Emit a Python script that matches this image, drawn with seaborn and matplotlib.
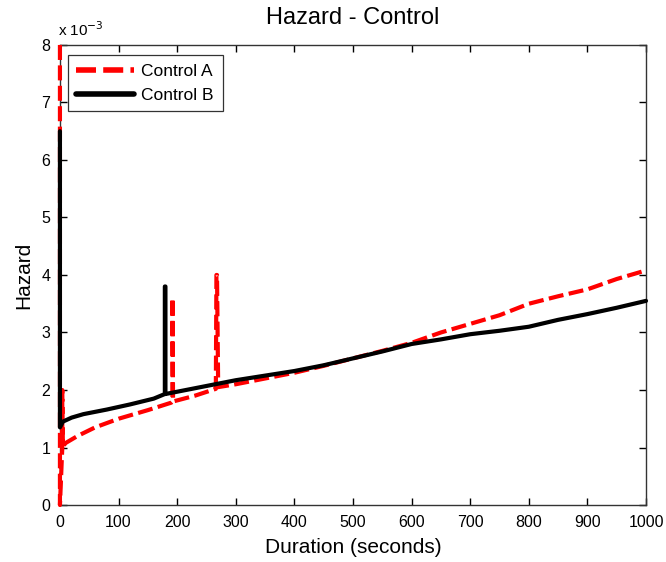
import matplotlib
matplotlib.use("Agg")
import matplotlib.pyplot as plt
import seaborn as sns
import pandas as pd

# Hazard values (units of 1e-3)
ctrl_a_x = [0, 0, 4, 4, 5, 10, 30, 60, 100, 150, 190, 192, 192, 193, 230,
            266, 267, 268, 270, 300, 350, 400, 450, 500, 550, 600, 650, 700,
            750, 800, 850, 900, 950, 1000]
ctrl_a_y = [8.0, 0.0, 1.0, 2.0, 1.02, 1.08, 1.2, 1.35, 1.5, 1.65, 1.78,
            1.8, 3.6, 1.8, 1.9, 2.02, 4.0, 4.0, 2.05, 2.1, 2.2, 2.3, 2.42,
            2.55, 2.68, 2.82, 3.0, 3.15, 3.3, 3.5, 3.63, 3.75, 3.93, 4.08]

ctrl_b_x = [0, 0, 5, 20, 40, 80, 120, 160, 179, 179, 180, 180, 200, 250, 300,
            350, 400, 450, 500, 550, 600, 650, 700, 750, 800, 850, 900, 950,
            1000]
ctrl_b_y = [6.5, 1.35, 1.45, 1.52, 1.58, 1.66, 1.75, 1.85, 1.93, 3.8, 3.8,
            1.93, 1.97, 2.07, 2.17, 2.25, 2.33, 2.43, 2.55, 2.67, 2.8, 2.88,
            2.97, 3.03, 3.1, 3.22, 3.32, 3.43, 3.55]

x_ticks = [0, 100, 200, 300, 400, 500, 600, 700, 800, 900, 1000]
y_ticks = [0, 1, 2, 3, 4, 5, 6, 7, 8]

sns.set_theme(style="white")
plt.rcParams['font.family'] = ['Liberation Sans', 'DejaVu Sans']
plt.rcParams['text.color'] = 'black'
plt.rcParams['axes.labelcolor'] = 'black'
plt.rcParams['xtick.color'] = 'black'
plt.rcParams['ytick.color'] = 'black'

fig = plt.figure(figsize=(6.66, 5.62), dpi=100)
ax = fig.add_axes([0.090, 0.1014, 0.880, 0.8186])

df_a = pd.DataFrame({"x": ctrl_a_x, "y": ctrl_a_y})
df_b = pd.DataFrame({"x": ctrl_b_x, "y": ctrl_b_y})

sns.lineplot(data=df_a, x="x", y="y", ax=ax, sort=False, estimator=None,
             color="#ff0000", linewidth=3, label="Control A")
line_a = ax.lines[-1]
line_a.set_dashes([3.6, 1.3])
sns.lineplot(data=df_b, x="x", y="y", ax=ax, sort=False, estimator=None,
             color="black", linewidth=3, label="Control B")
line_b = ax.lines[-1]
for ln in (line_a, line_b):
    ln.set_clip_on(False)
    ln.set_zorder(3)

ax.set_xlim(0, 1000)
ax.set_ylim(0, 8)
ax.set_xticks(x_ticks)
ax.set_yticks(y_ticks)
ax.set_xticklabels([str(t) for t in x_ticks], fontsize=11.5)
ax.set_yticklabels([str(t) for t in y_ticks], fontsize=11.5)
ax.tick_params(direction="in", length=5, width=1, color="black",
               top=True, right=True, bottom=True, left=True)
ax.tick_params(axis="x", pad=7)
ax.tick_params(axis="y", pad=7)
for s in ax.spines.values():
    s.set_color("#333333")
    s.set_linewidth(1)

ax.set_xlabel("Duration (seconds)", fontsize=15, labelpad=6)
ax.set_ylabel("Hazard", fontsize=15, labelpad=6)
ax.set_title("Hazard - Control", fontsize=17, pad=15)
ax.text(-0.003, 1.014, r"x 10$^{-3}$", transform=ax.transAxes, fontsize=11,
        ha="left", va="bottom")

leg = ax.legend(loc="upper left", bbox_to_anchor=(0.013, 0.978),
                fontsize=12.5, frameon=True, fancybox=False, edgecolor="black",
                handlelength=3.3, borderpad=0.5, labelspacing=0.5,
                handletextpad=0.45, borderaxespad=0.0)
leg.get_frame().set_linewidth(0.9)
for h in leg.get_lines():
    h.set_linewidth(4)

fig.savefig("out.png", dpi=100)
